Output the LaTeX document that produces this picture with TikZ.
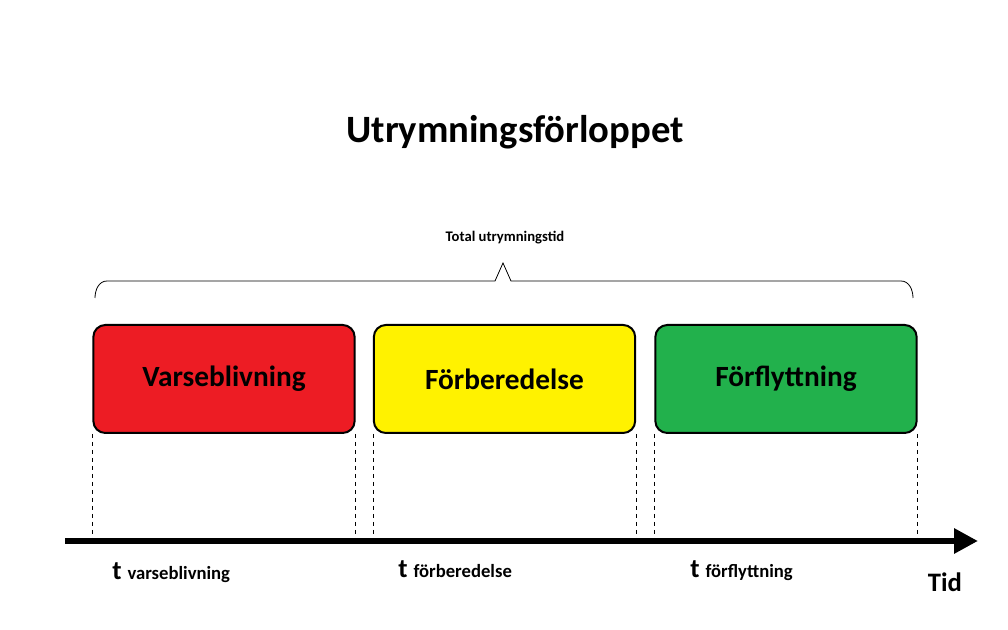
\documentclass[tikz,border=0pt]{standalone}
\usepackage{fontspec}
\setmainfont{Carlito}
\usetikzlibrary{arrows.meta}
\definecolor{cred}{HTML}{ED1C24}
\definecolor{cyel}{HTML}{FFF200}
\definecolor{cgrn}{HTML}{22B14C}
\begin{document}
\begin{tikzpicture}[x=0.75pt,y=-0.75pt,
  phase/.style={draw=black,line width=1.5pt,rounded corners=9pt,minimum width=196pt,minimum height=81pt,font=\bfseries\fontsize{22}{24}\selectfont,inner sep=0pt},
  guide/.style={dashed,line width=0.5pt},
  tlab/.style={font=\bfseries\fontsize{20}{22}\selectfont,anchor=base west,inner sep=0pt}]
\useasboundingbox (0,0) rectangle (1008,630);
\node[font=\bfseries\fontsize{29}{32}\selectfont] (title) at (515,132) {Utrymningsförloppet};
\node[font=\bfseries\fontsize{11}{13}\selectfont] (total) at (505,238) {Total utrymningstid};
\draw[line width=0.6pt] (95,298) to[out=90,in=180] (107,281) -- (495,281) -- (503,263) -- (511,281) -- (901,281) to[out=0,in=90] (913,298);
\node[phase,fill=cred] (v) at (224,379) {Varseblivning};
\node[phase,fill=cyel] (f) at (504.5,379) {Förberedelse};
\node[phase,fill=cgrn] (g) at (786,379) {Förflyttning};
\coordinate (a0) at (65,541);
\coordinate (a1) at (978,541);
\draw[line width=5pt,-{Triangle[length=18pt,width=18pt]}] (a0) -- (a1);
\foreach \n in {v,f,g}{
  \draw[guide] (\n.south west) -- (\n.south west |- a0);
  \draw[guide] (\n.south east) -- (\n.south east |- a0);
}
\node[tlab] (t1) at (112,580) {t \fontsize{14}{16}\selectfont varseblivning};
\node[tlab] (t2) at (398,578) {t \fontsize{14}{16}\selectfont förberedelse};
\node[tlab] (t3) at (690,578) {t \fontsize{14}{16}\selectfont förflyttning};
\node[font=\bfseries\fontsize{20}{22}\selectfont] (tid) at (945,582) {Tid};
\end{tikzpicture}
\end{document}
